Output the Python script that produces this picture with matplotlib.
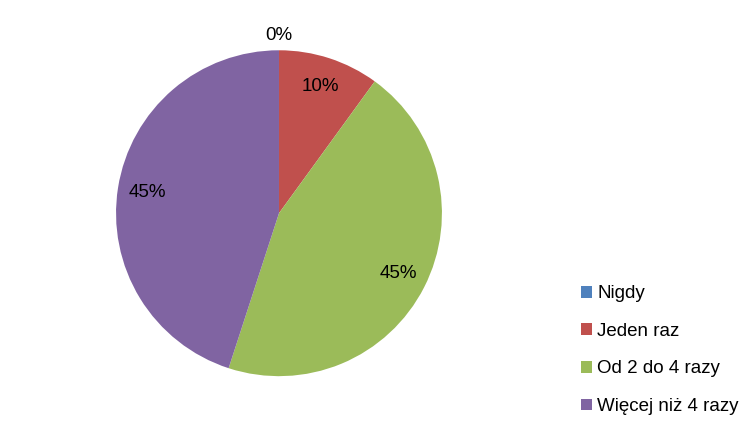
import matplotlib
matplotlib.use('Agg')
import matplotlib.pyplot as plt

plt.rcParams['font.family'] = ['Liberation Sans', 'DejaVu Sans']

# data
labels = ['Nigdy', 'Jeden raz', 'Od 2 do 4 razy', 'Więcej niż 4 razy']
values = [0, 10, 45, 45]
colors = ['#4F81BD', '#C0504D', '#9BBB59', '#8064A2']

fig = plt.figure(figsize=(7.53, 4.26), dpi=100)
ax = fig.add_axes([0.154, 0.117, 0.433, 0.765])

wedges, texts, autotexts = ax.pie(
    values, colors=colors, startangle=90, counterclock=False,
    autopct='%1.0f%%', pctdistance=0.82, radius=1,
    wedgeprops=dict(linewidth=0), textprops=dict(fontsize=13.5, color='black'))

# Excel puts the zero label outside the pie
for w, t, v in zip(wedges, autotexts, values):
    if v == 0:
        t.set_position((0, 1.09))

ax.set_xlim(-1, 1)
ax.set_ylim(-1, 1)
ax.set_aspect('equal')

fig.legend(wedges, labels, loc='center left', bbox_to_anchor=(0.761, 0.178),
           frameon=False, fontsize=13.5, labelspacing=1.1, handlelength=0.6,
           handleheight=0.6, handletextpad=0.3, borderaxespad=0)

fig.savefig('out.png', dpi=100)
